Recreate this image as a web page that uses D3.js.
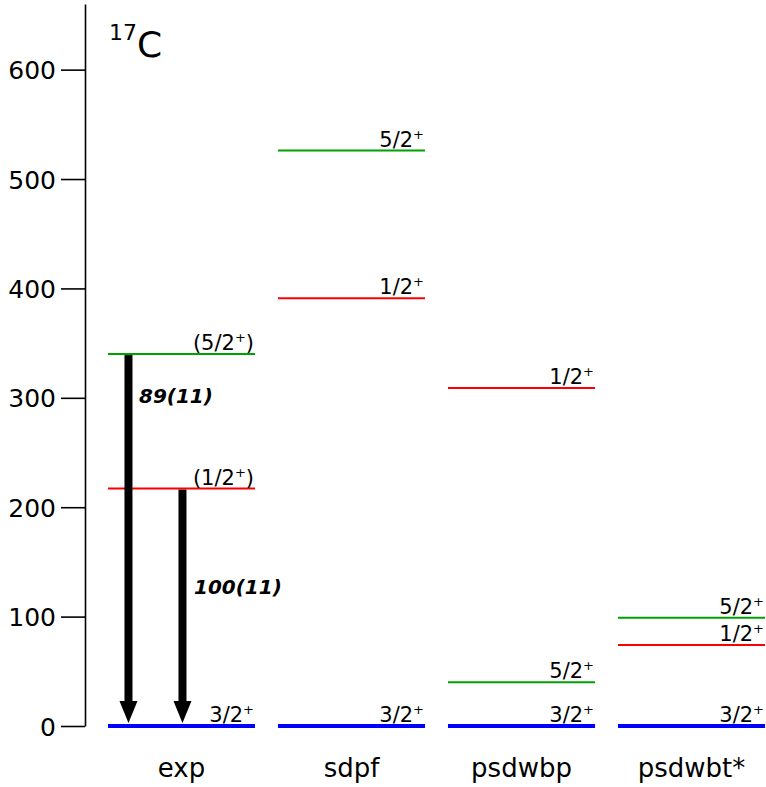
<!DOCTYPE html>
<html><head><meta charset="utf-8">
<script src="https://cdn.jsdelivr.net/npm/d3@7"></script>
<style>body{margin:0;background:#fff;} text{font-family:"DejaVu Sans",sans-serif;}</style>
</head><body>
<svg id="c" width="766" height="787"></svg>
<script>
const categories = ["exp","sdpf","psdwbp","psdwbt*"];
const levelCategory = ["exp","exp","exp","sdpf","sdpf","sdpf","psdwbp","psdwbp","psdwbp","psdwbt*","psdwbt*","psdwbt*"];
const levelEnergy   = [0, 217, 340, 0, 391, 526, 0, 309, 40, 0, 74, 99];
const levelSpin     = ["3/2","1/2","5/2","3/2","1/2","5/2","3/2","1/2","5/2","3/2","1/2","5/2"];
const levelTentative= [false,true,true,false,false,false,false,false,false,false,false,false];
const yTicks = [0,100,200,300,400,500,600];
const transFrom = [340, 217];
const transTo = [0, 0];
const transLabel = ["89(11)","100(11)"];

const spinColor = {"3/2":"#0000ff","1/2":"#ff0000","5/2":"#00a000"};
const svg = d3.select("#c");
const y = d3.scaleLinear().domain([0,660]).range([726,4]);
const x = d3.scaleBand().domain(categories).range([96.5,776.5]).paddingInner(0.135).paddingOuter(0.0675);

// axis
const ax = svg.append("g").attr("transform","translate(85,0)")
  .call(d3.axisLeft(y).tickValues(yTicks).tickSize(24).tickPadding(5).tickSizeOuter(0));
ax.select(".domain").attr("stroke","#000").attr("stroke-width",1.6);
ax.selectAll(".tick line").attr("stroke","#000").attr("stroke-width",1.6);
ax.selectAll(".tick text").attr("font-size",25).attr("font-family","DejaVu Sans Condensed").attr("fill","#000").attr("dy","0.36em");

// levels
const levels = levelEnergy.map((e,i)=>({e, c:levelCategory[i], s:levelSpin[i], t:levelTentative[i]}));
svg.selectAll("line.lev").data(levels).join("line")
  .attr("x1",d=>x(d.c)).attr("x2",d=>x(d.c)+x.bandwidth())
  .attr("y1",d=>y(d.e)).attr("y2",d=>y(d.e))
  .attr("stroke",d=>spinColor[d.s]).attr("stroke-width",d=>d.e===0?4:2);

const lt = svg.selectAll("text.lab").data(levels).join("text")
  .attr("x",d=>x(d.c)+x.bandwidth()-1).attr("y",d=>y(d.e)-4)
  .attr("text-anchor","end").attr("font-size",21).attr("font-family","DejaVu Sans Condensed").attr("fill","#000");
lt.each(function(d){
  const t=d3.select(this);
  t.append("tspan").text((d.t?"(":"")+d.s);
  t.append("tspan").attr("dy",-8).attr("font-size",13).text("+");
  if(d.t) t.append("tspan").attr("dy",8).text(")");
});

// arrows
const arrowX = [20.5, 74.5];
transFrom.forEach((f,i)=>{
  const cx = x("exp")+arrowX[i];
  const y0 = y(f)+1, y1 = y(transTo[i])-3;
  svg.append("rect").attr("x",cx-4).attr("y",y0).attr("width",8).attr("height",(y1-20)-y0).attr("fill","#000");
  svg.append("path").attr("d",`M${cx-9},${y1-22} L${cx+9},${y1-22} L${cx},${y1} Z`).attr("fill","#000");
});
const lbl = {"font-size":20,"font-weight":"bold","font-style":"italic","font-family":"DejaVu Sans Condensed"};
const t1 = svg.append("text").attr("x",x("exp")+31).attr("y",y(296)+1).text(transLabel[0]);
const t2 = svg.append("text").attr("x",x("exp")+86).attr("y",y(122)+1).text(transLabel[1]);
[t1,t2].forEach(t=>Object.entries(lbl).forEach(([k,v])=>t.attr(k,v)));

// category labels
svg.selectAll("text.cat").data(categories).join("text")
  .attr("x",d=>x(d)+x.bandwidth()/2).attr("y",777).attr("text-anchor","middle").attr("font-size",26).text(d=>d);

// title
const tt = svg.append("text").attr("x",109).attr("y",57).attr("font-size",36);
tt.append("tspan").attr("font-size",22).attr("dy",-17).text("17");
tt.append("tspan").attr("dy",17).text("C");
</script>
</body></html>
